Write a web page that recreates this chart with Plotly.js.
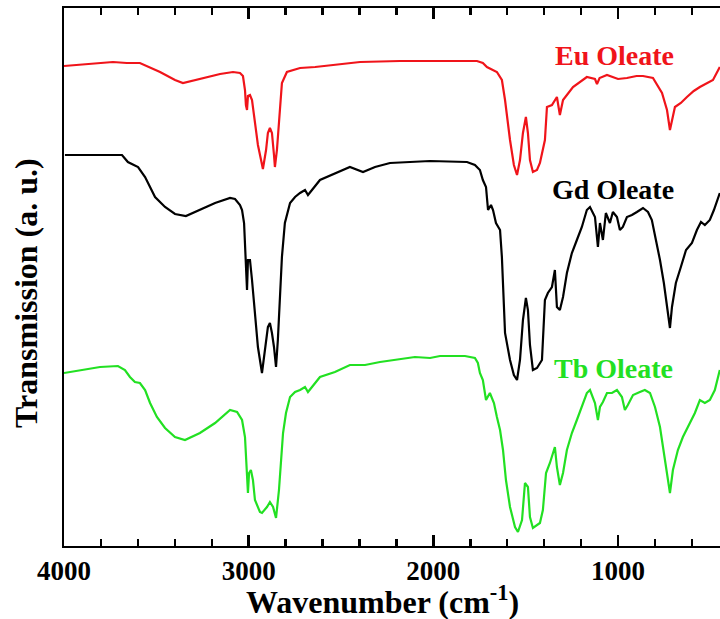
<!DOCTYPE html>
<html>
<head>
<meta charset="utf-8">
<script src="https://cdn.plot.ly/plotly-3.0.1.min.js"></script>
<style>html,body{margin:0;padding:0;background:#fff;}#chart{width:720px;height:619px;}</style>
</head>
<body>
<div id="chart"></div>
<script>
// Series names
const seriesNames = ["Eu Oleate", "Gd Oleate", "Tb Oleate"];

// Eu Oleate (red) : wavenumber (cm-1) and offset transmission (a.u.)
const euWavenumber = [4000,3940,3859,3800,3735,3660,3589,3480,3399,3356,3264,3155,3085,3047,3031,3020,3015,3009,3004,2993,2982,2966,2950,2933,2923,2906,2896,2885,2874,2863,2858,2847,2831,2820,2793,2722,2640,2544,2397,2181,1964,1764,1732,1710,1656,1629,1612,1585,1564,1547,1531,1515,1499,1488,1477,1461,1439,1423,1396,1385,1358,1331,1315,1298,1244,1169,1125,1114,1100,1060,1000,952,900,865,811,762,735,719,692,660,627,590,557,520,486,449];
const euTransmission = [480,481,482,483,484,483,483,474,466,463,467,472,474,473,470,456,441,436,450,451,446,426,401,386,377,396,413,418,413,391,379,396,436,463,474,478,479,481,484,485,485,485,483,479,474,466,446,406,381,371,386,413,429,413,386,374,376,383,406,439,441,449,431,446,459,469,467,462,468,471,467,468,470,470,468,453,436,416,439,443,449,455,459,463,466,479];

// Gd Oleate (black)
const gdWavenumber = [3995,3686,3654,3599,3561,3507,3453,3399,3340,3264,3182,3101,3074,3047,3036,3025,3020,3015,3009,3004,2993,2982,2966,2950,2928,2917,2896,2885,2874,2863,2852,2842,2831,2820,2804,2776,2749,2722,2695,2679,2614,2452,2381,2316,2235,2127,2018,1818,1775,1748,1732,1715,1704,1688,1677,1661,1639,1629,1623,1612,1585,1564,1547,1531,1515,1499,1488,1477,1461,1439,1412,1396,1380,1358,1342,1331,1315,1298,1277,1250,1223,1196,1169,1152,1125,1109,1098,1082,1066,1044,1028,1006,990,974,952,925,898,865,838,817,795,773,752,735,719,708,687,660,632,600,573,551,530,503,481,449];
const gdTransmission = [391,391,384,379,369,349,339,332,330,336,343,348,347,341,336,323,306,279,256,286,286,266,233,199,173,189,219,223,213,199,179,206,256,289,323,343,349,353,356,351,366,379,374,379,383,384,385,384,381,376,366,359,336,341,336,323,316,289,256,213,186,171,166,186,226,248,236,201,176,178,186,246,253,259,276,239,236,249,273,293,306,319,336,339,329,299,323,306,333,323,334,329,316,319,329,331,334,338,334,326,306,286,263,239,218,239,263,279,296,303,316,324,321,326,336,353];

// Tb Oleate (green)
const tbWavenumber = [4000,3913,3805,3708,3670,3643,3616,3589,3561,3534,3497,3453,3399,3345,3264,3182,3101,3063,3036,3020,3015,3009,3004,2998,2988,2977,2966,2939,2928,2901,2885,2868,2852,2836,2825,2814,2798,2776,2749,2722,2695,2679,2614,2533,2452,2370,2289,2181,2100,2018,1964,1829,1775,1759,1748,1732,1715,1694,1672,1656,1639,1623,1607,1585,1558,1542,1520,1504,1488,1477,1461,1423,1407,1390,1369,1342,1331,1315,1298,1277,1250,1223,1196,1169,1152,1125,1109,1098,1082,1060,1033,1006,979,963,947,919,882,855,827,800,773,752,735,719,703,676,649,611,584,557,530,503,476,449];
const tbTransmission = [173,176,179,180,176,169,164,163,156,143,129,118,109,106,113,123,136,134,126,109,89,69,53,73,76,66,46,34,33,39,44,39,28,56,89,113,133,149,154,156,159,154,169,174,181,181,184,187,189,188,190,190,188,183,173,166,146,153,143,129,116,96,66,39,19,14,26,63,59,29,18,23,36,73,83,99,79,61,73,96,113,126,139,153,156,143,126,139,144,153,153,156,149,136,141,151,154,156,153,139,119,93,69,53,76,96,109,123,133,146,143,146,156,176];

// Axis ticks (major every 1000 cm-1, minor every 200 cm-1)
const xTickVals = [4000, 3000, 2000, 1000];
const xTickText = ["4000", "3000", "2000", "1000"];
const xMinorStep = 200;

const colors = ["#f0141a", "#000000", "#22e022"];
const fam = "Liberation Serif, Times New Roman, serif";

const traces = [
  {x: euWavenumber, y: euTransmission, name: seriesNames[0]},
  {x: gdWavenumber, y: gdTransmission, name: seriesNames[1]},
  {x: tbWavenumber, y: tbTransmission, name: seriesNames[2]}
].map((t, i) => Object.assign(t, {type: "scatter", mode: "lines", line: {color: colors[i], width: 2.2}, hoverinfo: "skip"}));

const labelX = [1017, 1028, 1022];
const labelY = [491, 357, 178];

const annotations = seriesNames.map((n, i) => ({
  x: labelX[i], y: labelY[i], xref: "x", yref: "y", text: n, showarrow: false,
  font: {family: fam, size: 28, color: colors[i], weight: "bold"}
}));
annotations.push({
  xref: "paper", yref: "paper", x: (382 - 64) / 656, y: -0.100, yanchor: "middle",
  text: "Wavenumber (cm<sup>-1</sup>)", showarrow: false,
  font: {family: fam, size: 32, color: "#000", weight: "bold"}
});
annotations.push({
  xref: "paper", yref: "paper", x: -0.058, y: (546 - 293) / 538, xanchor: "center", yanchor: "middle",
  text: "Transmission (a. u.)", textangle: -90, showarrow: false,
  font: {family: fam, size: 32, color: "#000", weight: "bold"}
});

const layout = {
  width: 720, height: 619,
  margin: {l: 64, r: 0, t: 8, b: 73},
  paper_bgcolor: "#fff", plot_bgcolor: "#fff",
  showlegend: false,
  xaxis: {
    range: [4000, 448], showgrid: false, zeroline: false,
    showline: true, linecolor: "#000", linewidth: 2, mirror: "ticks",
    tickmode: "array", tickvals: xTickVals, ticktext: xTickText,
    ticks: "inside", ticklen: 11, tickwidth: 2.5, tickcolor: "#000",
    minor: {dtick: xMinorStep, ticks: "inside", ticklen: 7, tickwidth: 2.5, tickcolor: "#000"},
    tickfont: {family: fam, size: 27, color: "#000", weight: "bold"}
  },
  yaxis: {
    range: [0, 538], showgrid: false, zeroline: false,
    showline: true, linecolor: "#000", linewidth: 2, mirror: false,
    ticks: "", showticklabels: false
  },
  annotations: annotations
};

Plotly.newPlot("chart", traces, layout, {displayModeBar: false, staticPlot: true});
</script>
</body>
</html>
